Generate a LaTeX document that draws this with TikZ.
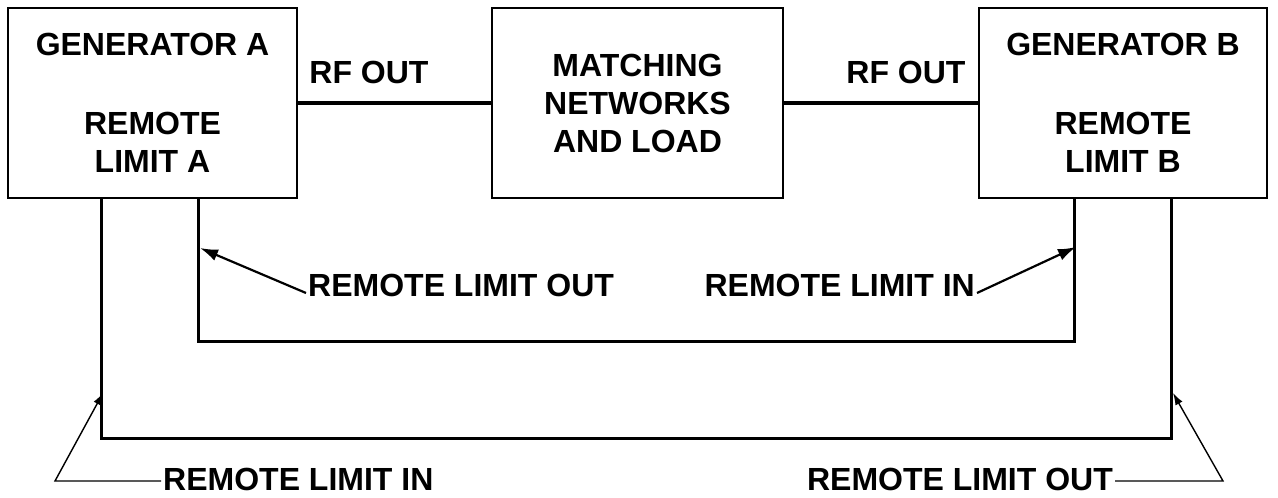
\documentclass[tikz,border=0pt]{standalone}
\usepackage{fontspec}
\setmainfont{Liberation Sans}
\usetikzlibrary{positioning,arrows.meta}

\begin{document}
\begin{tikzpicture}[
  x=1pt, y=1pt,
  module/.style={rectangle, draw, line width=2.6pt, minimum height=190pt, align=center, font=\bfseries\fontsize{32}{38}\selectfont},
  tag/.style={font=\bfseries\fontsize{32}{38}\selectfont, inner sep=2pt},
  rfline/.style={line width=4.5pt},
  wire/.style={line width=3pt},
  pointer/.style={-{Latex[length=18pt,width=12pt]}, line width=2.2pt},
  leader/.style={-{Latex[length=12pt,width=8pt]}, line width=1.4pt}
]
\useasboundingbox (0,0) rectangle (1278,498);

% Blocks
\node[module, minimum width=289pt] (GenA) at (152.5,395) {GENERATOR A\\[41pt]REMOTE\\LIMIT A};
\node[module, minimum width=291pt] (Match) at (637.5,395) {MATCHING\\NETWORKS\\AND LOAD};
\node[module, minimum width=288pt] (GenB) at (1123,395) {GENERATOR B\\[41pt]REMOTE\\LIMIT B};

% RF outputs
\node[tag] (RfA) at (369,426) {RF OUT};
\node[tag] (RfB) at (906,426) {RF OUT};
\draw[rfline] (GenA.east) -- (Match.west);
\draw[rfline] (GenB.west) -- (Match.east);

% Remote limit wiring
\draw[wire] ([xshift=192pt]GenA.south west) -- ++(0,-142) -| ([xshift=97pt]GenB.south west);
\draw[wire] ([xshift=95pt]GenA.south west) -- ++(0,-239) -| ([xshift=194pt]GenB.south west);

% Labels
\node[tag, anchor=west] (OutA) at (306,213) {REMOTE LIMIT OUT};
\node[tag, anchor=east] (InB) at (977,213) {REMOTE LIMIT IN};
\node[tag, anchor=west] (InA) at (161,19) {REMOTE LIMIT IN};
\node[tag, anchor=east] (OutB) at (1115,19) {REMOTE LIMIT OUT};

\coordinate (tipOutA) at (200,250);
\coordinate (tipInB) at (1076,251);
\coordinate (tipInA) at (103,105);
\coordinate (tipOutB) at (1173,105);
\coordinate (kneeA) at (55,17);
\coordinate (kneeB) at (1223,17);

\draw[pointer] ([yshift=-8pt]OutA.west) -- (tipOutA);
\draw[pointer] ([yshift=-8pt]InB.east) -- (tipInB);
\draw[leader] ([yshift=-2pt]InA.west) -- (kneeA) -- (tipInA);
\draw[leader] ([yshift=-2pt]OutB.east) -- (kneeB) -- (tipOutB);

\end{tikzpicture}
\end{document}
